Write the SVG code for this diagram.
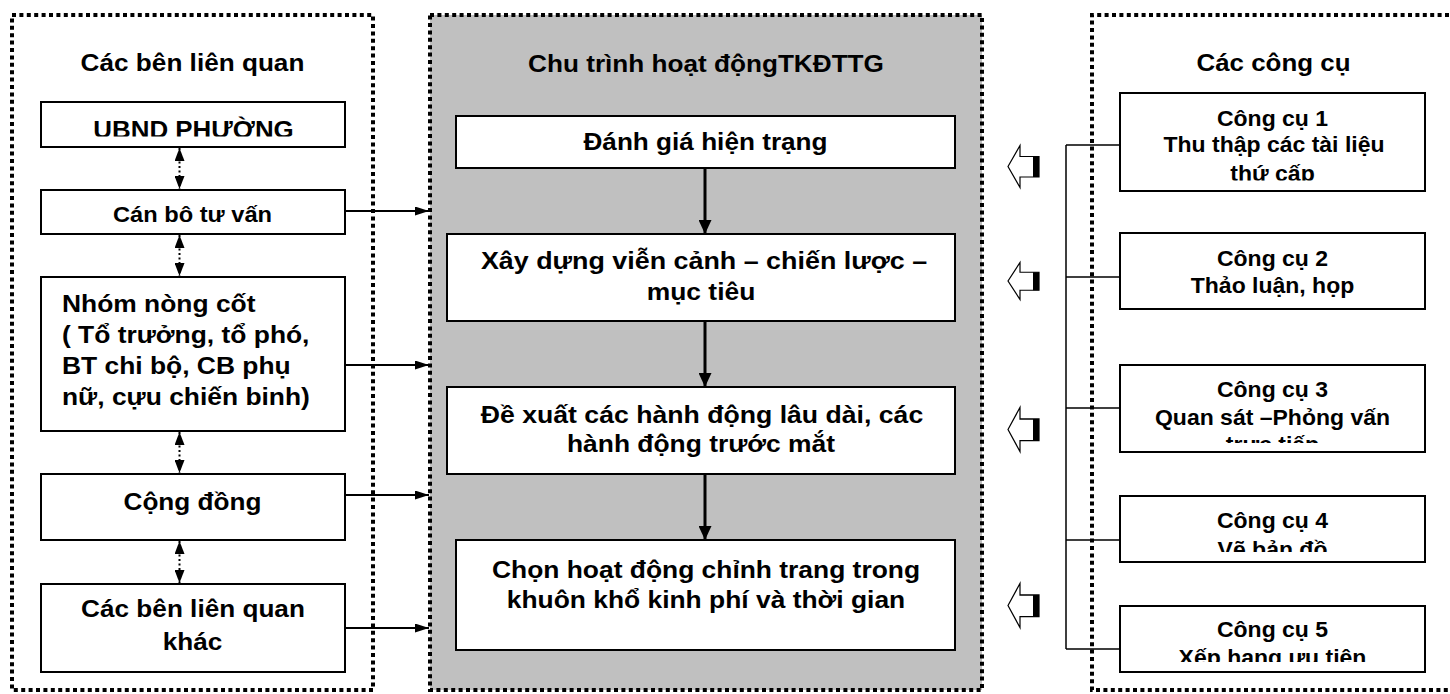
<svg xmlns="http://www.w3.org/2000/svg" width="1450" height="694" viewBox="0 0 1450 694">
<style>
  .frame{fill:none;stroke:#000;stroke-width:4;stroke-dasharray:4 3.4}
  .box{fill:#fff;stroke:#000;stroke-width:2}
  .t{font-family:"Liberation Sans",Arial,sans-serif;font-weight:bold;fill:#000;text-anchor:middle}
  .s{text-anchor:start}
  .f24{font-size:24px}
  .f21{font-size:21.5px}
  .fr{font-size:21.5px}
  .ln{stroke:#000;stroke-width:2;fill:none}
  .ln3{stroke:#000;stroke-width:3;fill:none}
  .thin{stroke:#000;stroke-width:1.5;fill:none}
  .dot{stroke:#000;stroke-width:2;fill:none;stroke-dasharray:2 2.5}
  .hollow{fill:#fff;stroke:#000;stroke-width:1.2}
</style>
<defs>
  <marker id="ah" viewBox="0 0 14 9" refX="14" refY="4.5" markerWidth="14" markerHeight="9" markerUnits="userSpaceOnUse" orient="auto">
    <path d="M0,0 L14,4.5 L0,9 z" fill="#000"/>
  </marker>
  <marker id="ahBig" viewBox="0 0 14 13" refX="14" refY="6.5" markerWidth="14" markerHeight="13" markerUnits="userSpaceOnUse" orient="auto">
    <path d="M0,0 L14,6.5 L0,13 z" fill="#000"/>
  </marker>
  <marker id="ahD" viewBox="0 0 13 10" refX="13" refY="5" markerWidth="13" markerHeight="10" markerUnits="userSpaceOnUse" orient="auto-start-reverse">
    <path d="M0,0 L13,5 L0,10 z" fill="#000"/>
  </marker>
  <clipPath id="cUb"><rect x="41" y="102" width="304" height="34.5"/></clipPath>
  <clipPath id="cT1"><rect x="1120" y="93" width="305" height="87.5"/></clipPath>
  <clipPath id="cT3"><rect x="1120" y="365" width="305" height="78"/></clipPath>
  <clipPath id="cT4"><rect x="1120" y="496" width="305" height="56"/></clipPath>
  <clipPath id="cT5"><rect x="1120" y="606" width="305" height="56"/></clipPath>
  <g id="hollowArrow">
    <path class="hollow" d="M0,0 L12,-21 L12,-10 L31,-10 L31,10.5 L12,10.5 L12,21 Z"/>
    <rect x="25" y="-10" width="6" height="20.5" fill="#000"/>
  </g>
</defs>

<!-- containers -->
<g id="stakeholders-panel">
  <rect class="frame" x="12" y="15" width="361" height="675"/>
  <text class="t f24" transform="translate(192.5 71) scale(1.09 1)">Các bên liên quan</text>
</g>
<g id="cycle-panel">
  <rect x="430" y="15" width="552" height="675" fill="#c0c0c0"/>
  <rect class="frame" x="430" y="15" width="552" height="675"/>
  <text class="t f24" transform="translate(706 72) scale(1.09 1)">Chu trình hoạt độngTKĐTTG</text>
</g>
<g id="tools-panel">
  <path class="frame" d="M1449,15 H1092 V690 H1449"/>
  <text class="t f24" transform="translate(1273.5 71) scale(1.08 1)">Các công cụ</text>
</g>

<!-- left nodes -->
<g id="ubnd">
  <rect class="box" x="41" y="102" width="304" height="45"/>
  <g clip-path="url(#cUb)"><text class="t f24" transform="translate(193.5 138) scale(1.08 1)">UBND PHƯỜNG</text></g>
</g>
<g id="can-bo">
  <rect class="box" x="41" y="190" width="304" height="44"/>
  <text class="t f21" transform="translate(192.5 222) scale(1.1 1)">Cán bô tư vấn</text>
</g>
<g id="nhom-nong-cot">
  <rect class="box" x="41" y="277" width="304" height="154"/>
  <text class="t s f24" transform="translate(62 312) scale(1.1 1)">Nhóm nòng cốt</text>
  <text class="t s f24" transform="translate(62 343) scale(1.1 1)">( Tổ trưởng, tổ phó,</text>
  <text class="t s f24" transform="translate(62 374) scale(1.1 1)">BT chi bộ, CB phụ</text>
  <text class="t s f24" transform="translate(62 405) scale(1.1 1)">nữ, cựu chiến binh)</text>
</g>
<g id="cong-dong">
  <rect class="box" x="41" y="474" width="304" height="66"/>
  <text class="t f24" transform="translate(192.5 510) scale(1.09 1)">Cộng đồng</text>
</g>
<g id="cac-ben-khac">
  <rect class="box" x="41" y="584" width="304" height="88"/>
  <text class="t f24" transform="translate(193 617) scale(1.09 1)">Các bên liên quan</text>
  <text class="t f24" transform="translate(192.5 650) scale(1.09 1)">khác</text>
</g>

<!-- center nodes -->
<g id="danh-gia">
  <rect class="box" x="456" y="116" width="499" height="52"/>
  <text class="t f24" transform="translate(705.5 150) scale(1.09 1)">Đánh giá hiện trạng</text>
</g>
<g id="xay-dung">
  <rect class="box" x="447" y="234" width="508" height="87"/>
  <text class="t f24" transform="translate(704 269) scale(1.12 1)">Xây dựng viễn cảnh – chiến lược –</text>
  <text class="t f24" transform="translate(701 300) scale(1.1 1)">mục tiêu</text>
</g>
<g id="de-xuat">
  <rect class="box" x="447" y="387" width="508" height="87"/>
  <text class="t f24" transform="translate(702 423) scale(1.11 1)">Đề xuất các hành động lâu dài, các</text>
  <text class="t f24" transform="translate(701 452) scale(1.1 1)">hành động trước mắt</text>
</g>
<g id="chon-hoat-dong">
  <rect class="box" x="456" y="540" width="499" height="110"/>
  <text class="t f24" transform="translate(706 578) scale(1.1 1)">Chọn hoạt động chỉnh trang trong</text>
  <text class="t f24" transform="translate(706 608) scale(1.1 1)">khuôn khổ kinh phí và thời gian</text>
</g>

<!-- right nodes -->
<g id="cong-cu-1">
  <rect class="box" x="1120" y="93" width="305" height="98"/>
  <g clip-path="url(#cT1)">
    <text class="t fr" transform="translate(1272.5 126) scale(1.07 1)">Công cụ 1</text>
    <text class="t fr" transform="translate(1274 152) scale(1.07 1)">Thu thập các tài liệu</text>
    <text class="t fr" transform="translate(1272.5 181) scale(1.07 1)">thứ cấp</text>
  </g>
</g>
<g id="cong-cu-2">
  <rect class="box" x="1120" y="233" width="305" height="76"/>
  <text class="t fr" transform="translate(1272.5 266) scale(1.07 1)">Công cụ 2</text>
  <text class="t fr" transform="translate(1272.5 293) scale(1.07 1)">Thảo luận, họp</text>
</g>
<g id="cong-cu-3">
  <rect class="box" x="1120" y="365" width="305" height="87"/>
  <g clip-path="url(#cT3)">
    <text class="t fr" transform="translate(1272.5 397) scale(1.07 1)">Công cụ 3</text>
    <text class="t fr" transform="translate(1272.5 425) scale(1.07 1)">Quan sát –Phỏng vấn</text>
    <text class="t fr" transform="translate(1272.5 452) scale(1.07 1)">trực tiếp</text>
  </g>
</g>
<g id="cong-cu-4">
  <rect class="box" x="1120" y="496" width="305" height="66"/>
  <g clip-path="url(#cT4)">
    <text class="t fr" transform="translate(1272.5 528) scale(1.07 1)">Công cụ 4</text>
    <text class="t fr" transform="translate(1272.5 557) scale(1.07 1)">Vẽ bản đồ</text>
  </g>
</g>
<g id="cong-cu-5">
  <rect class="box" x="1120" y="606" width="305" height="66"/>
  <g clip-path="url(#cT5)">
    <text class="t fr" transform="translate(1272.5 637) scale(1.07 1)">Công cụ 5</text>
    <text class="t fr" transform="translate(1272.5 665) scale(1.07 1)">Xếp hạng ưu tiên</text>
  </g>
</g>

<!-- connectors -->
<g id="connectors">
  <!-- stakeholder chain (dotted double arrows) -->
  <line class="dot" x1="179.5" y1="148" x2="179.5" y2="189" marker-start="url(#ahD)" marker-end="url(#ahD)"/>
  <line class="dot" x1="179.5" y1="235" x2="179.5" y2="276" marker-start="url(#ahD)" marker-end="url(#ahD)"/>
  <line class="dot" x1="179.5" y1="432" x2="179.5" y2="473" marker-start="url(#ahD)" marker-end="url(#ahD)"/>
  <line class="dot" x1="179.5" y1="541" x2="179.5" y2="583" marker-start="url(#ahD)" marker-end="url(#ahD)"/>
  <!-- stakeholders to cycle -->
  <line class="ln" x1="345" y1="211" x2="429" y2="211" marker-end="url(#ah)"/>
  <line class="ln" x1="345" y1="365" x2="429" y2="365" marker-end="url(#ah)"/>
  <line class="ln" x1="345" y1="495" x2="429" y2="495" marker-end="url(#ah)"/>
  <line class="ln" x1="345" y1="628" x2="429" y2="628" marker-end="url(#ah)"/>
  <!-- cycle steps -->
  <line class="ln3" x1="705" y1="168" x2="705" y2="234" marker-end="url(#ahBig)"/>
  <line class="ln3" x1="705" y1="321" x2="705" y2="387" marker-end="url(#ahBig)"/>
  <line class="ln3" x1="705" y1="474" x2="705" y2="540" marker-end="url(#ahBig)"/>
  <!-- tools bracket -->
  <path class="thin" d="M1066,145 V649 M1066,145 H1120 M1066,277 H1120 M1066,408 H1120 M1066,540 H1120 M1066,649 H1120"/>
  <!-- hollow arrows toward cycle -->
  <use href="#hollowArrow" transform="translate(1008 166.5)"/>
  <use href="#hollowArrow" transform="translate(1008 281) scale(1 0.88)"/>
  <use href="#hollowArrow" transform="translate(1008 429.5) scale(1 1.05)"/>
  <use href="#hollowArrow" transform="translate(1008 605.5) scale(1 1.05)"/>
</g>
</svg>
